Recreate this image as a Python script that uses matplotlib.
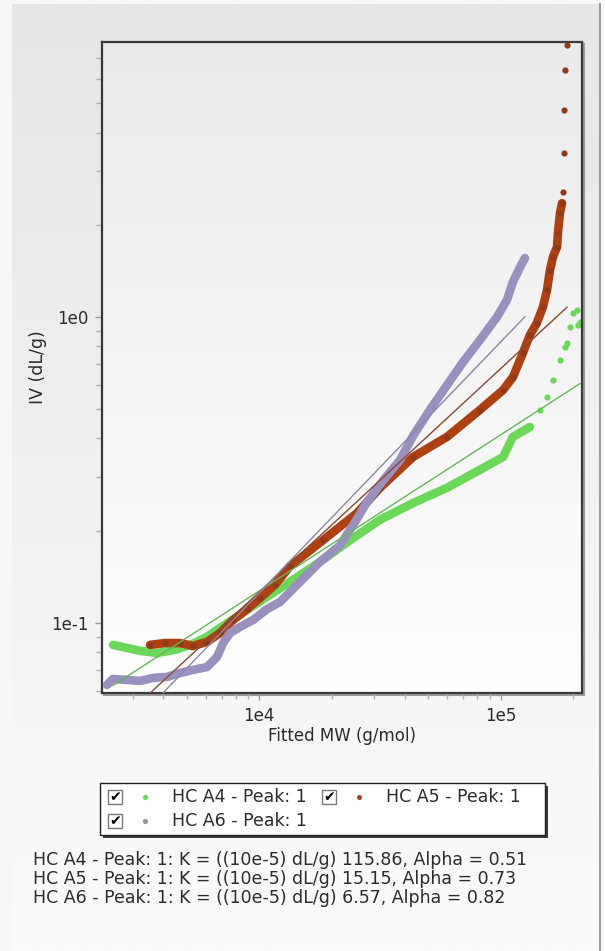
import matplotlib
matplotlib.use("Agg")
import matplotlib.pyplot as plt
import numpy as np
from matplotlib.patches import Rectangle
from matplotlib.ticker import FixedLocator, FixedFormatter, LogLocator, NullFormatter

# ---------------- data ----------------
series_names = ["HC A4 - Peak: 1", "HC A5 - Peak: 1", "HC A6 - Peak: 1"]
k_values = [115.86, 15.15, 6.57]          # (10e-5) dL/g
alpha_values = [0.51, 0.73, 0.82]

a4_mw = [2477, 2832, 3206, 3768, 4477, 5164, 5957, 6871, 7925, 9152, 10560, 13400,
         17830, 23760, 31620, 43350, 59960, 82040, 102300, 112400, 132100,
         145400, 155500, 164700, 176000, 184600, 188200, 193700, 199400, 207000,
         208900, 213200]
a4_iv = [0.0846, 0.0827, 0.0809, 0.0796, 0.0815, 0.0846, 0.0891, 0.0961, 0.1035,
         0.1117, 0.1204, 0.136, 0.158, 0.186, 0.217, 0.246, 0.276, 0.316, 0.348,
         0.405, 0.436, 0.496, 0.547, 0.621, 0.722, 0.796, 0.820, 0.925, 1.028,
         1.05, 0.940, 0.962]

a5_mw = [3527, 4064, 4695, 5309, 6067, 6871, 7780, 8892, 10070, 11610, 13400, 18350,
         25390, 31620, 43350, 59960, 82040, 102300, 112400, 123600, 132100, 141200,
         149600, 155500, 160000, 164700, 171200, 172700, 176000, 179600, 181200,
         183000, 183000, 184600, 188200]
a5_iv = [0.0846, 0.0858, 0.0858, 0.0839, 0.0865, 0.0925, 0.102, 0.1107, 0.1204,
         0.133, 0.153, 0.186, 0.228, 0.276, 0.348, 0.405, 0.496, 0.576, 0.635,
         0.761, 0.871, 0.954, 1.076, 1.22, 1.42, 1.57, 1.69, 1.88, 2.18, 2.35,
         2.56, 3.43, 4.73, 6.40, 7.73]

a6_mw = [2339, 2477, 2832, 3206, 3630, 4150, 4695, 5309, 6067, 6683, 7079, 7568,
         8318, 9419, 10760, 12190, 14750, 17830, 21580, 24900, 27940, 32510, 38280,
         43350, 50930, 59960, 69830, 82040, 96550, 106200, 112400, 120200, 126000]
a6_iv = [0.0626, 0.0655, 0.0650, 0.0645, 0.0660, 0.0665, 0.0685, 0.0701, 0.0716,
         0.0773, 0.0858, 0.0925, 0.0968, 0.102, 0.1107, 0.1169, 0.136, 0.158,
         0.179, 0.213, 0.248, 0.291, 0.340, 0.408, 0.496, 0.598, 0.711, 0.839,
         0.998, 1.135, 1.30, 1.45, 1.555]

x_ticks = [1e4, 1e5]
x_tick_labels = ["1e4", "1e5"]
y_ticks = [0.1, 1.0]
y_tick_labels = ["1e-1", "1e0"]

# ---------------- styles ----------------
W, H, DPI = 605, 951, 100
band_colors = ["#6cd85a", "#ae4012", "#9a90be"]
dot_colors = ["#6cd85a", "#8f3b1a", "#9a90be"]
fit_colors = ["#62b85a", "#8a4a30", "#8e86aa"]
legend_dot_colors = ["#6cd85a", "#a0522d", "#9a9a9a"]
band_counts = [21, 30, 33]   # points drawn as dense band, the rest as single dots
FONT = "DejaVu Sans"
TXT = "#2b2b2b"
FS = 12

plt.rcParams["font.family"] = [FONT]

fig = plt.figure(figsize=(W / DPI, H / DPI), dpi=DPI)

# background canvas in pixel coordinates
bg = fig.add_axes([0, 0, 1, 1], zorder=0)
bg.set_xlim(0, W)
bg.set_ylim(H, 0)
bg.set_axis_off()
bg.add_patch(Rectangle((0, 0), W, H, facecolor="#f7f7f7", edgecolor="none"))

def vgrad(top, bottom, n=256):
    t = np.linspace(0, 1, n)[:, None, None]
    a = np.array(matplotlib.colors.to_rgb(top))[None, None, :]
    b = np.array(matplotlib.colors.to_rgb(bottom))[None, None, :]
    return a * (1 - t) + b * t

bg.imshow(vgrad("#e6e6e6", "#fbfbfb"), extent=(12, 600, H, 4), origin="upper",
          aspect="auto", interpolation="bilinear", zorder=1)
bg.plot([600, 600], [4, H], color="#8a8a8a", lw=1.2, zorder=2)

# plot-area gradient
L, R, T, B = 102, 582, 42, 692.7
bg.imshow(vgrad("#eaeaea", "#ffffff"), extent=(L, R, B, T), origin="upper",
          aspect="auto", interpolation="bilinear", zorder=2)
# slight drop shadow of plot frame
bg.plot([L + 2, R + 2, R + 2], [B + 2, B + 2, T + 2], color="#9a9a9a", lw=1.5, zorder=2)

# ---------------- main axes ----------------
ax = fig.add_axes([L / W, 1 - B / H, (R - L) / W, (B - T) / H], zorder=3)
ax.patch.set_alpha(0)
ax.set_xscale("log")
ax.set_yscale("log")
ax.set_xlim(2230, 217200)
ax.set_ylim(0.05904, 7.904)

mws = [a4_mw, a5_mw, a6_mw]
ivs = [a4_iv, a5_iv, a6_iv]
for i in range(3):
    x = np.array(mws[i], dtype=float)
    y = np.array(ivs[i], dtype=float)
    n = band_counts[i]
    ax.plot(x[:n], y[:n], color=band_colors[i], lw=6.2, solid_capstyle="round",
            solid_joinstyle="round", zorder=2 + i)
    ax.plot(x, y, "o", color=dot_colors[i] if i == 1 else band_colors[i], ms=4.5,
            mec="none", zorder=2 + i)

for i in range(3):
    x = np.array(mws[i], dtype=float)
    xf = np.array([x.min(), x.max()])
    yf = k_values[i] * 1e-5 * xf ** alpha_values[i]
    ax.plot(xf, yf, color=fit_colors[i], lw=1.0, zorder=6)

for s in ax.spines.values():
    s.set_color("#3a3a3a")
    s.set_linewidth(1.6)

ax.xaxis.set_major_locator(FixedLocator(x_ticks))
ax.xaxis.set_major_formatter(FixedFormatter(x_tick_labels))
ax.yaxis.set_major_locator(FixedLocator(y_ticks))
ax.yaxis.set_major_formatter(FixedFormatter(y_tick_labels))
ax.xaxis.set_minor_locator(LogLocator(base=10, subs=np.arange(2, 10)))
ax.yaxis.set_minor_locator(LogLocator(base=10, subs=np.arange(2, 10)))
ax.xaxis.set_minor_formatter(NullFormatter())
ax.yaxis.set_minor_formatter(NullFormatter())
ax.tick_params(which="major", direction="out", length=5, width=1, color="#9a9a9a",
               labelsize=FS, labelcolor=TXT)
ax.tick_params(which="minor", direction="out", length=4, width=1, color="#b0b0b0")
ax.tick_params(axis="x", which="major", pad=5)
ax.tick_params(axis="y", which="major", pad=5)

ax.set_xlabel("Fitted MW (g/mol)", fontsize=FS, color=TXT, labelpad=2)
ax.set_ylabel("IV (dL/g)", fontsize=12.5, color=TXT, labelpad=3)

# ---------------- legend (pixel coords on bg) ----------------
lx, ly, lw_, lh = 100, 783, 445, 52
bg.add_patch(Rectangle((lx + 3, ly + 3), lw_, lh, facecolor="#3a3a3a", edgecolor="none", zorder=4))
bg.add_patch(Rectangle((lx, ly), lw_, lh, facecolor="white", edgecolor="#202020", lw=1, zorder=5))
legend_slots = [(108, 797), (322, 797), (108, 821)]
for i, (cx, cy) in enumerate(legend_slots):
    bg.add_patch(Rectangle((cx, cy - 7), 14, 14, facecolor="white", edgecolor="#7a7a7a",
                           lw=1, zorder=6))
    bg.text(cx + 7, cy + 0.5, "\u2714", fontsize=10, ha="center", va="center",
            color="black", zorder=7)
    bg.plot(cx + 37, cy, "o", ms=3.8, color=legend_dot_colors[i], mec="none", zorder=7)
    bg.text(cx + 64, cy, series_names[i], fontsize=12.5, ha="left", va="center",
            color=TXT, zorder=7)

# ---------------- fit parameter text ----------------
for i, yy in enumerate([860, 879, 898]):
    bg.text(33, yy, f"{series_names[i]}: K = ((10e-5) dL/g) {k_values[i]:.2f}, "
                    f"Alpha = {alpha_values[i]:.2f}",
            fontsize=12.5, ha="left", va="center", color=TXT, zorder=7)

fig.savefig("out.png", dpi=DPI)
